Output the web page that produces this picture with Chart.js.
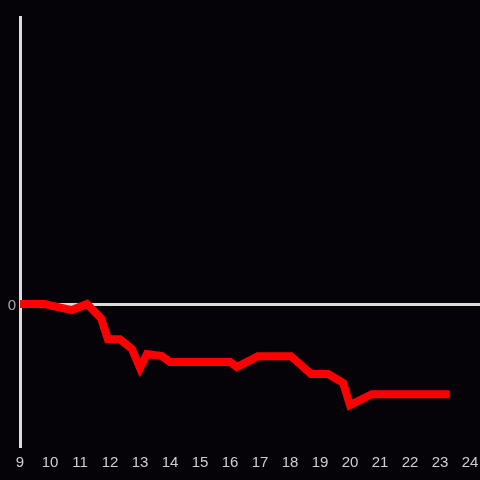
<!DOCTYPE html>
<html>
<head>
<meta charset="utf-8">
<script src="https://cdn.jsdelivr.net/npm/chart.js@4/dist/chart.umd.min.js"></script>
<style>
  html, body { margin: 0; padding: 0; background: #050307; }
  #wrap { width: 480px; height: 480px; }
</style>
</head>
<body>
<div id="wrap"><canvas id="grafico" width="480" height="480"></canvas></div>
<script>
const horas = [9.0, 9.8, 10.73, 11.23, 11.7, 11.93, 12.33, 12.73, 13.0, 13.23, 13.73, 14.0, 16.0, 16.23, 16.93, 18.03, 18.7, 19.27, 19.77, 20.0, 20.73, 23.33];
const valores = [0, 0, -2.1, 0, -4.9, -12.2, -12.2, -15.6, -22.2, -17.4, -18.1, -20.1, -20.1, -21.9, -18.1, -18.1, -24.3, -24.3, -27.4, -35.1, -31.3, -31.3];
const ticksX = [9, 10, 11, 12, 13, 14, 15, 16, 17, 18, 19, 20, 21, 22, 23, 24];

const pontos = horas.map((h, i) => ({ x: h, y: valores[i] }));

// linha do zero e eixo vertical
const linhasEixo = {
  id: 'linhasEixo',
  beforeDatasetsDraw(chart) {
    const { ctx, chartArea, scales } = chart;
    const y0 = scales.y.getPixelForValue(0);
    ctx.save();
    ctx.fillStyle = '#dcdcdc';
    ctx.fillRect(chartArea.left, Math.round(y0) - 1, chart.width - chartArea.left, 3);
    ctx.fillRect(chartArea.left - 1, chartArea.top, 3, chartArea.bottom - chartArea.top);
    ctx.restore();
  }
};

const ctx = document.getElementById('grafico').getContext('2d');

new Chart(ctx, {
  type: 'line',
  data: {
    datasets: [{
      data: pontos,
      borderColor: '#ff0000',
      borderWidth: 8,
      pointRadius: 0,
      tension: 0,
      borderCapStyle: 'butt',
      borderJoinStyle: 'miter'
    }]
  },
  options: {
    responsive: false,
    animation: false,
    layout: { padding: { top: 16, right: 10, left: 0, bottom: 0 } },
    plugins: {
      legend: { display: false },
      tooltip: { enabled: false }
    },
    scales: {
      x: {
        type: 'linear',
        min: 9,
        max: 24,
        afterBuildTicks: s => { s.ticks = ticksX.map(v => ({ value: v })); },
        afterFit: s => { s.height = 32; s.paddingRight = 0; s.paddingLeft = 0; },
        grid: { display: false, drawTicks: false },
        border: { display: false },
        ticks: { color: '#cfcfcf', padding: 6, maxRotation: 0, autoSkip: false, font: { family: 'Liberation Sans', size: 15 } }
      },
      y: {
        min: -50,
        max: 100,
        afterBuildTicks: s => { s.ticks = [{ value: 0 }]; },
        afterFit: s => { s.width = 20; },
        grid: { display: false, drawTicks: false },
        border: { display: false },
        ticks: { color: '#a8a8a8', padding: 4, labelOffset: 2, font: { family: 'Liberation Sans', size: 15 } }
      }
    }
  },
  plugins: [linhasEixo]
});
</script>
</body>
</html>
